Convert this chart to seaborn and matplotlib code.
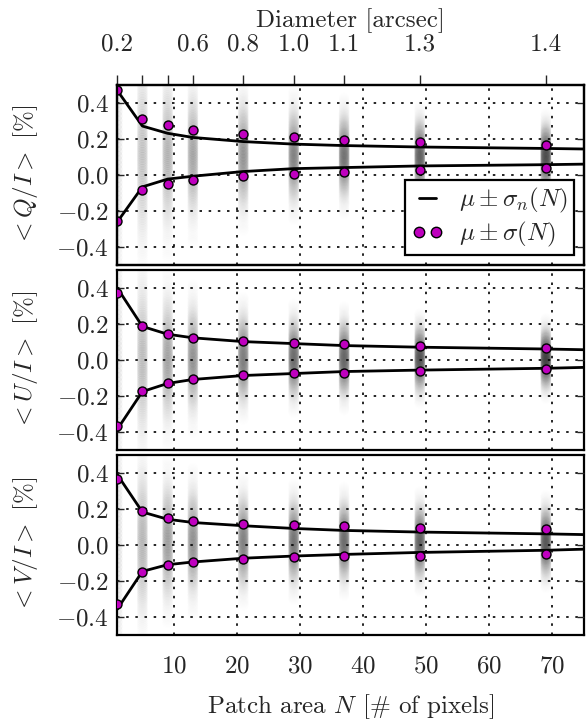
import numpy as np
import pandas as pd
import matplotlib
matplotlib.use('Agg')
import matplotlib.pyplot as plt
import seaborn as sns
from matplotlib.lines import Line2D

# ---------------- data ----------------
N_pts = [1, 5, 9, 13, 21, 29, 37, 49, 69]
N_line = [1, 5, 9, 13, 21, 29, 37, 49, 69, 75]
diam_labels = ['0.2', '', '', '0.6', '0.8', '1.0', '1.1', '1.3', '1.4']
x_ticks = [10, 20, 30, 40, 50, 60, 70]
y_ticks = [-0.4, -0.2, 0.0, 0.2, 0.4]

# mu +/- sigma_n(N) lines
q_line_up = [0.47, 0.272, 0.232, 0.209, 0.186, 0.172, 0.164, 0.156, 0.148, 0.145]
q_line_lo = [-0.26, -0.065, -0.022, -0.006, 0.02, 0.036, 0.042, 0.051, 0.058, 0.061]
u_line_up = [0.40, 0.186, 0.143, 0.123, 0.102, 0.091, 0.080, 0.071, 0.061, 0.057]
u_line_lo = [-0.385, -0.175, -0.13, -0.108, -0.086, -0.075, -0.064, -0.056, -0.046, -0.041]
v_line_up = [0.39, 0.182, 0.142, 0.124, 0.106, 0.091, 0.080, 0.071, 0.061, 0.057]
v_line_lo = [-0.357, -0.147, -0.11, -0.095, -0.074, -0.062, -0.053, -0.042, -0.030, -0.024]

# mu +/- sigma(N) dots
q_dot_up = [0.47, 0.31, 0.276, 0.252, 0.227, 0.209, 0.195, 0.182, 0.169]
q_dot_lo = [-0.256, -0.085, -0.049, -0.025, -0.007, 0.009, 0.018, 0.029, 0.038]
u_dot_up = [0.373, 0.186, 0.143, 0.123, 0.105, 0.093, 0.088, 0.077, 0.068]
u_dot_lo = [-0.365, -0.174, -0.13, -0.107, -0.085, -0.073, -0.07, -0.06, -0.052]
v_dot_up = [0.364, 0.188, 0.148, 0.133, 0.117, 0.108, 0.103, 0.094, 0.089]
v_dot_lo = [-0.33, -0.149, -0.11, -0.095, -0.081, -0.07, -0.063, -0.059, -0.052]

ylabels = [r'$<Q/I>$ [%]', r'$<U/I>$ [%]', r'$<V/I>$ [%]']

# ---------------- style ----------------
FS = 18
sns.set_style('white')
plt.rcParams.update({
    'font.family': 'serif',
    'font.serif': ['cmr10'],
    'mathtext.fontset': 'cm',
    'axes.formatter.use_mathtext': True,
    'font.size': FS,
    'axes.linewidth': 1.6,
    'axes.edgecolor': 'black',
})

fig = plt.figure(figsize=(5.86, 7.2), dpi=100)
gs = fig.add_gridspec(3, 1, left=0.2, right=0.996, top=0.882, bottom=0.118, hspace=0.025)
axes = [fig.add_subplot(gs[i]) for i in range(3)]

panels = [
    (q_line_up, q_line_lo, q_dot_up, q_dot_lo),
    (u_line_up, u_line_lo, u_dot_up, u_dot_lo),
    (v_line_up, v_line_lo, v_dot_up, v_dot_lo),
]

zgrid = np.linspace(-3.5, 3.5, 141)

for i, (ax, (lu, ll, du, dl)) in enumerate(zip(axes, panels)):
    # gray distributions (shading rendered from mean and spread of each column)
    for n, up, lo in zip(N_pts, du, dl):
        c = (up + lo) / 2
        s = (up - lo) / 2
        w = 1.35 * s
        ys = c + zgrid * w
        tau0 = 0.024 * s ** -1.4
        n_over = 0.056 / (zgrid[1] - zgrid[0]) / w
        k = tau0 / n_over
        cols = np.zeros((len(ys), 4))
        cols[:, 3] = 1 - np.exp(-k * np.exp(-zgrid ** 2 / 2))
        ax.scatter(np.full(len(ys), n), ys, s=60, c=cols, edgecolors='none',
                   zorder=1)
    df_l = pd.DataFrame({'N': N_line, 'up': lu, 'lo': ll})
    sns.lineplot(data=df_l, x='N', y='up', color='k', lw=2, ax=ax, zorder=3)
    sns.lineplot(data=df_l, x='N', y='lo', color='k', lw=2, ax=ax, zorder=3)
    df_d = pd.DataFrame({'N': N_pts * 2, 'y': du + dl})
    sns.scatterplot(data=df_d, x='N', y='y', color='#bf00bf', edgecolor='k',
                    linewidth=1, s=42, ax=ax, zorder=4)
    ax.set_xlim(1, 75)
    ax.set_ylim(-0.5, 0.5)
    ax.set_xticks(x_ticks)
    ax.set_yticks(y_ticks)
    ax.set_yticklabels([r'$%.1f$' % v for v in y_ticks])
    ax.set_axisbelow(False)
    ax.grid(True, color='k', linestyle=(0, (1.5, 4)), linewidth=1.2, zorder=2)
    ax.set_ylabel(ylabels[i], fontsize=FS, labelpad=12)
    ax.tick_params(axis='y', direction='in', left=True, right=True, length=5,
                   width=1, labelsize=FS, pad=6)
    if i < 2:
        ax.tick_params(axis='x', length=0, labelbottom=False)
        ax.set_xlabel('')
    else:
        ax.tick_params(axis='x', direction='out', length=7, width=1, labelsize=FS, pad=8)
        ax.set_xticklabels([r'$%d$' % v for v in x_ticks])
        ax.set_xlabel(r'Patch area $N$ [# of pixels]', fontsize=FS, labelpad=10)
    for sp in ax.spines.values():
        sp.set_linewidth(1.6)

# top axis: diameter
top = axes[0].twiny()
top.set_xlim(1, 75)
top.set_xticks(N_pts)
top.set_xticklabels(diam_labels)
top.tick_params(axis='x', direction='out', length=7, width=1, labelsize=FS, pad=14)
top.set_xlabel('Diameter [arcsec]', fontsize=FS, labelpad=5)
for sp in top.spines.values():
    sp.set_linewidth(1.6)

handles = [Line2D([0], [0], color='k', lw=2),
           Line2D([0], [0], color='#bf00bf', marker='o', markeredgecolor='k',
                  markersize=7.5, linestyle='none')]
leg = axes[0].legend(handles, [r'$\mu\pm\sigma_n(N)$', r'$\mu\pm\sigma(N)$'],
                     loc='lower right', fontsize=FS, numpoints=2, handlelength=1.3,
                     handletextpad=0.6, fancybox=False, framealpha=1, edgecolor='k',
                     borderpad=0.25, labelspacing=0.2, borderaxespad=0.4)
leg.get_frame().set_linewidth(1.6)
leg.set_zorder(10)

fig.savefig('out.png', dpi=100)
